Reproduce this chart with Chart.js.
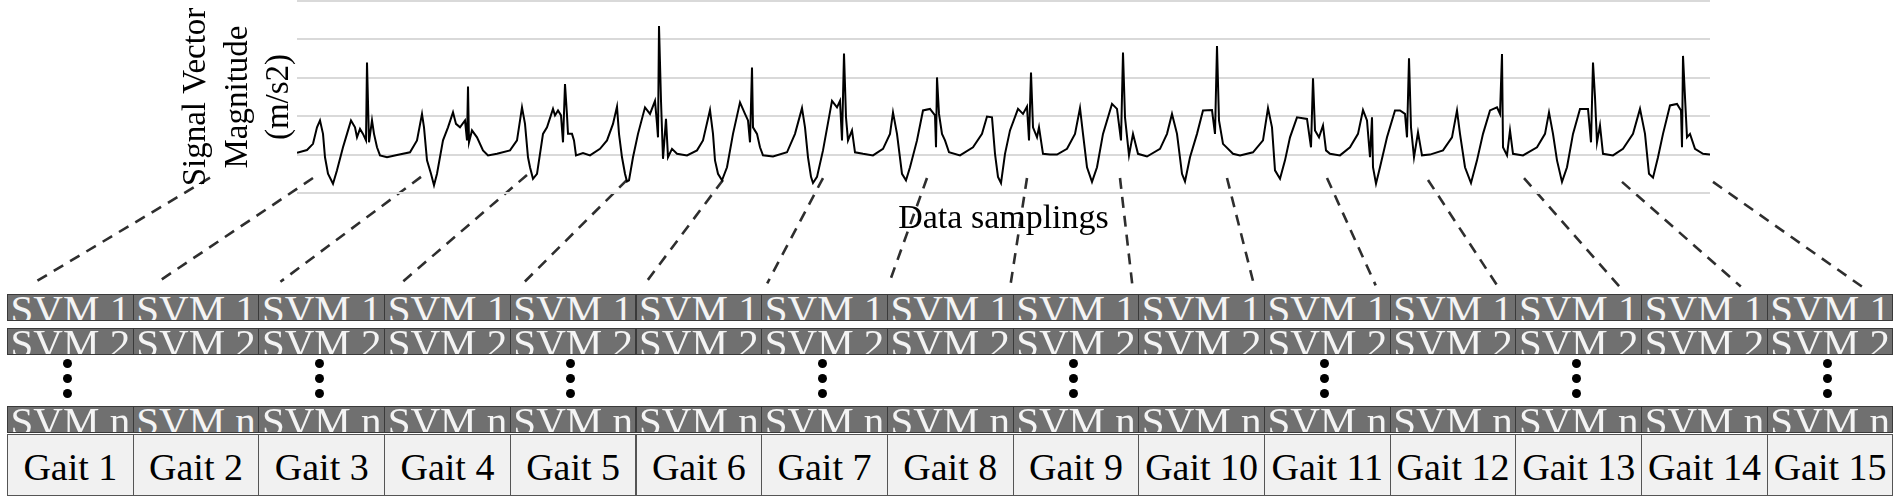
<!DOCTYPE html>
<html lang="en">
<head>
<meta charset="UTF-8">
<title>Gait segmentation of the signal vector magnitude</title>
<script src="https://cdn.jsdelivr.net/npm/chart.js"></script>
<style>
  body { margin: 0; background: #fff; }
  #wrap { position: relative; width: 1902px; height: 497px; overflow: hidden;
          font-family: 'Liberation Serif', 'Times New Roman', serif; }
  #chartBox { position: absolute; left: 0; top: 0; width: 1902px; height: 497px; }
  .svm { position: absolute; background: #707070; border: 1px solid #3a3a3a; box-sizing: border-box;
         overflow: hidden; color: #f4f4f4; font-family: 'Liberation Serif', 'Times New Roman', serif;
         font-size: 41px; line-height: 1; text-align: center; z-index: 2; }
  .svm span { position: absolute; left: 0; right: 0; top: -6px; white-space: nowrap; }
  .gait { position: absolute; background: #f1f1f1; border: 1px solid #555; box-sizing: border-box;
          display: flex; align-items: center; justify-content: center; padding-top: 4px;
          font-family: 'Liberation Serif', 'Times New Roman', serif; font-size: 38px; color: #000; z-index: 2; }
  .dot { position: absolute; width: 9px; height: 9px; border-radius: 50%; background: #000; z-index: 2; }
</style>
</head>
<body>
<div id="wrap">
  <div id="chartBox"><canvas id="svmChart"></canvas></div>
</div>
<script>
// signal: sample number and SVM value (m/s2)
const sampleIdx = [
  0, 10, 16, 20, 23, 26, 28, 31, 36, 40, 46, 50, 54, 58, 60, 63, 66, 69, 70, 72, 75, 77, 80, 83, 90,
  100, 113, 120, 125, 127, 130, 134, 137, 140, 146, 151, 156, 159, 163, 168, 170, 171, 172, 175, 180, 186, 191,
  200, 213, 220, 225, 228, 231, 233, 236, 240, 246, 250, 256, 258, 261, 264, 266, 268, 270, 271, 275, 277, 279, 286, 293,
  303, 310, 316, 320, 322, 325, 328, 330, 332, 336, 341, 348, 353, 358, 360, 361, 362, 364, 366, 369, 371, 375, 380, 390,
  400, 406, 413, 416, 418, 421, 425, 430, 436, 443, 448, 451, 453, 455, 456, 460, 463, 466, 476, 490,
  498, 505, 508, 511, 514, 516, 520, 526, 535, 540, 543, 545, 547, 549, 551, 555, 558, 566, 576, 586,
  593, 596, 600, 605, 609, 613, 620, 626, 633, 638, 639, 640, 642, 645, 648, 652, 663, 676,
  685, 690, 695, 698, 701, 704, 708, 713, 721, 726, 730, 732, 734, 736, 740, 742, 746, 753, 760, 770,
  778, 783, 786, 790, 795, 800, 806, 815, 820, 824, 826, 828, 832, 836, 841, 850, 863,
  870, 875, 880, 885, 888, 893, 900, 906, 915, 918, 920, 922, 926, 936, 943, 956,
  966, 971, 975, 978, 983, 988, 993, 1000, 1010, 1014, 1016, 1018, 1022, 1026, 1029, 1033, 1043, 1053,
  1061, 1066, 1070, 1073, 1075, 1076, 1079, 1083, 1090, 1098, 1103, 1108, 1110, 1112, 1114, 1117, 1121, 1125, 1133, 1146,
  1155, 1160, 1163, 1168, 1174, 1180, 1186, 1193, 1200, 1203, 1205, 1206, 1210, 1213, 1216, 1226, 1240,
  1248, 1252, 1256, 1260, 1265, 1270, 1276, 1283, 1291, 1294, 1296, 1298, 1300, 1303, 1306, 1316, 1326,
  1336, 1343, 1348, 1352, 1356, 1361, 1366, 1373, 1380, 1384, 1385, 1386, 1388, 1390, 1393, 1398, 1406, 1413
];
const svmValues = [
  10.5, 11.2, 12.8, 17.1, 18.9, 15.4, 9.3, 5, 2.4, 5.9, 11.9, 15.4, 18.9, 17.1, 14.5, 16.7, 15.4, 13.7, 34, 13.2, 18.9, 15.4, 11.9, 9.8, 9.3,
  9.9, 10.6, 13.7, 20.6, 17.1, 8.5, 5, 2, 5, 13.7, 17.1, 21, 18, 17.1, 18.9, 13.7, 27.7, 13.2, 16.3, 14.5, 11.1, 9.8,
  10.2, 11.1, 13.7, 22.3, 18, 9.3, 6.7, 3.7, 5, 15.4, 17.1, 21.9, 20.2, 21.5, 20.2, 13.2, 28.4, 20.2, 15.4, 15.4, 13.7, 9.8, 10.4, 9.8,
  11.5, 13.7, 18, 22.5, 15.4, 9.3, 5, 3, 3.3, 9.3, 15.4, 22.3, 20.6, 24, 18, 14.5, 43.5, 24, 8.9, 19.3, 9.3, 11.5, 10.2, 9.8,
  11.1, 13.7, 21.6, 15.4, 8.5, 5, 3.3, 6.7, 15.4, 23.6, 20.6, 18.9, 13.2, 32.7, 17.1, 15.4, 11.9, 9.8, 9.5, 10.6,
  15.4, 22.1, 17.1, 9.3, 4.2, 2.6, 4.2, 11.1, 24, 22.3, 24, 13.7, 36.3, 19.7, 13.7, 16.3, 10.6, 10.2, 9.8, 11.5,
  15.4, 21, 15.4, 5, 3.3, 6.7, 13.7, 21.5, 21.9, 20.2, 11.9, 30.1, 20.6, 15.4, 13.7, 10.6, 9.8, 11.9,
  15.4, 19.9, 19.7, 10.2, 4.2, 2.6, 10.2, 16.3, 21.9, 20.6, 22.5, 13.7, 31.4, 17.1, 14.5, 17.1, 10.2, 10, 10, 11.5,
  15.4, 22.1, 15.4, 6.7, 2.9, 6.7, 15.4, 23.2, 21.9, 13.7, 36.6, 19.7, 9.8, 15.4, 10.2, 9.5, 11.5,
  15.4, 20.6, 15.4, 5, 3, 9.3, 15.4, 21.5, 21.6, 15.4, 38.3, 18.9, 12.8, 10.2, 9.8, 10.6,
  13.7, 22.1, 17.1, 5.9, 3.7, 8.5, 14.5, 19.7, 19.3, 11.9, 29.9, 16.3, 14.5, 17.6, 11.1, 10.2, 9.8, 11.9,
  15.4, 21.6, 18.9, 9.3, 19.7, 6.7, 2.4, 6.7, 14.5, 21.5, 21.5, 20.6, 14.5, 35.1, 17.1, 9.3, 15.8, 9.8, 10, 11.1,
  14.5, 21.5, 15.4, 6.7, 2.6, 8.5, 15.4, 21.5, 22.3, 20.6, 36.2, 11.9, 9.8, 16.3, 10.2, 9.8, 11.9,
  15.4, 21, 15.4, 8.5, 2.9, 6.7, 15.4, 21.9, 21.9, 13.2, 34, 24.9, 13.2, 17.6, 10.2, 9.8, 11.5,
  15.4, 21.9, 15.4, 5, 4, 9.3, 15.4, 22.8, 23.2, 21.5, 11.9, 35.7, 24.9, 14.5, 15.4, 11.5, 10.2, 10
];

// gait boundaries: where each dashed connector leaves the signal (sample, level)
const boundarySamples = [-87, 16, 124, 230, 330, 426, 526, 630, 730, 823, 930, 1030, 1131, 1227, 1325, 1416];
const boundaryLevels = [4, 3.9, 4.2, 4.7, 3.4, 3.4, 3.9, 3.9, 3.9, 3.9, 3.9, 3.9, 3.4, 3.9, 2.9, 2.9];

const gaitLabels = ['Gait 1', 'Gait 2', 'Gait 3', 'Gait 4', 'Gait 5', 'Gait 6', 'Gait 7', 'Gait 8',
                    'Gait 9', 'Gait 10', 'Gait 11', 'Gait 12', 'Gait 13', 'Gait 14', 'Gait 15'];
const svmRowLabels = ['SVM 1', 'SVM 2', 'SVM n'];

// layout of the segment boxes under the chart
const boxLeft = 7, boxWidth = 125.7;
const svmRowTops = [294, 328, 406], svmRowHeight = 27;
const gaitTop = 434, gaitHeight = 62;
const dotTops = [359, 374, 389];

const wrap = document.getElementById('wrap');
gaitLabels.forEach((label, k) => {
  const left = boxLeft + k * boxWidth;
  svmRowLabels.forEach((svm, r) => {
    const b = document.createElement('div');
    b.className = 'svm';
    b.style.left = left + 'px';
    b.style.top = svmRowTops[r] + 'px';
    b.style.width = (boxWidth + 1) + 'px';
    b.style.height = svmRowHeight + 'px';
    const t = document.createElement('span');
    t.textContent = svm;
    b.appendChild(t);
    wrap.appendChild(b);
  });
  const g = document.createElement('div');
  g.className = 'gait';
  g.style.left = left + 'px';
  g.style.top = gaitTop + 'px';
  g.style.width = (boxWidth + 1) + 'px';
  g.style.height = gaitHeight + 'px';
  g.textContent = label;
  wrap.appendChild(g);
  if (k % 2 === 0) {
    dotTops.forEach(top => {
      const d = document.createElement('div');
      d.className = 'dot';
      d.style.left = (left + boxWidth / 2 - 6.5) + 'px';
      d.style.top = top + 'px';
      wrap.appendChild(d);
    });
  }
});

// dashed connectors from the gait boundaries in the signal down to the segment boxes
const fanLeft = 37, fanStep = 121.7, fanTop = 281, fanDrop = 0.4;
const connectorPlugin = {
  id: 'connectors',
  beforeDraw(chart) {
    const { ctx, scales: { x, y } } = chart;
    ctx.save();
    ctx.strokeStyle = '#2e2e2e';
    ctx.lineWidth = 2.6;
    ctx.setLineDash([11, 8]);
    boundarySamples.forEach((s, k) => {
      ctx.beginPath();
      ctx.moveTo(x.getPixelForValue(s), y.getPixelForValue(boundaryLevels[k]));
      ctx.lineTo(fanLeft + k * fanStep, fanTop + k * fanDrop);
      ctx.stroke();
    });
    ctx.restore();
  }
};

const ctx = document.getElementById('svmChart').getContext('2d');
new Chart(ctx, {
  type: 'line',
  data: {
    datasets: [{
      data: sampleIdx.map((s, i) => ({ x: s, y: svmValues[i] })),
      borderColor: '#000',
      borderWidth: 2,
      pointRadius: 0,
      tension: 0
    }]
  },
  options: {
    animation: false,
    responsive: true,
    maintainAspectRatio: false,
    layout: { padding: { top: 1, right: 192, left: 0, bottom: 0 } },
    plugins: { legend: { display: false }, tooltip: { enabled: false } },
    scales: {
      x: {
        type: 'linear',
        min: 0,
        max: 1413,
        grid: { display: false },
        border: { display: false },
        ticks: { display: false },
        title: {
          display: true,
          text: 'Data samplings',
          color: '#000',
          font: { family: 'Liberation Serif', size: 34, lineHeight: 1.2 },
          padding: { top: 0, bottom: 258 }
        },
        afterFit(scale) { scale.height = 304; }
      },
      y: {
        min: 0,
        max: 50,
        ticks: { display: false, stepSize: 10 },
        grid: { color: '#d9d9d9', lineWidth: 2, drawTicks: false },
        border: { display: false },
        title: {
          display: true,
          text: ['Signal Vector', 'Magnitude', '(m/s2)'],
          color: '#000',
          font: { family: 'Liberation Serif', size: 33, lineHeight: 1.27 },
          padding: { top: 175, bottom: 0 }
        },
        afterFit(scale) { scale.width = 297; }
      }
    }
  },
  plugins: [connectorPlugin]
});
</script>
</body>
</html>
